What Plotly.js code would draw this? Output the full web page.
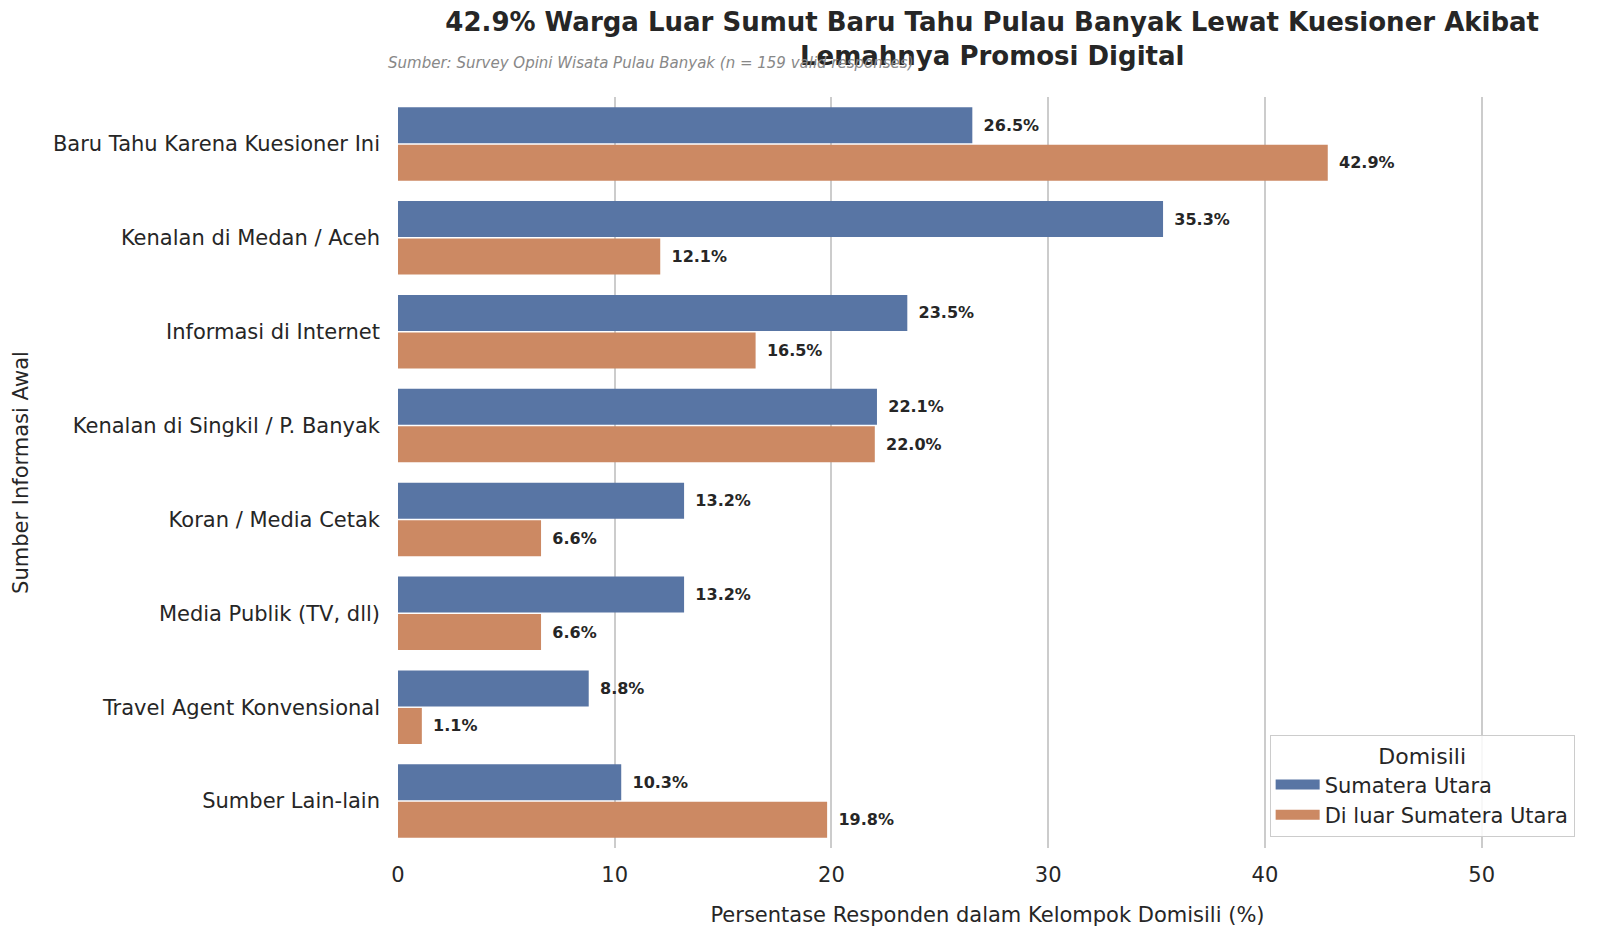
<!DOCTYPE html>
<html>
<head>
<meta charset="utf-8">
<script src="https://cdn.plot.ly/plotly-3.0.1.min.js"></script>
<style>
  html, body { margin: 0; padding: 0; background: #fff; }
  #grafik { width: 1600px; height: 941px; }
</style>
</head>
<body>
<div id="grafik"></div>
<script>
// kategori sumber informasi (urut dari atas)
const kategori = [
  'Baru Tahu Karena Kuesioner Ini',
  'Kenalan di Medan / Aceh',
  'Informasi di Internet',
  'Kenalan di Singkil / P. Banyak',
  'Koran / Media Cetak',
  'Media Publik (TV, dll)',
  'Travel Agent Konvensional',
  'Sumber Lain-lain'
];
const sumut = [26.5, 35.3, 23.5, 22.1, 13.2, 13.2, 8.8, 10.3];
const luarSumut = [42.9, 12.1, 16.5, 22.0, 6.6, 6.6, 1.1, 19.8];
const namaSeri = ['Sumatera Utara', 'Di luar Sumatera Utara'];
const warna = ['#5875a4', '#cc8963'];
const xTicks = [0, 10, 20, 30, 40, 50];

const fontDasar = 'DejaVu Sans, sans-serif';
const labelFont = { family: fontDasar, size: 16, color: '#262626' };
const jarak = '\u00A0\u2009';  // sedikit jarak antara ujung bar dan label

function barTrace(nama, nilai, col) {
  return {
    type: 'bar', orientation: 'h', name: nama,
    y: kategori, x: nilai,
    text: nilai.map(v => jarak + '<b>' + v.toFixed(1) + '%</b>'),
    textposition: 'outside', cliponaxis: false,
    textfont: labelFont,
    marker: { color: col, line: { width: 0 } },
    showlegend: false
  };
}

// legenda pakai garis tebal supaya swatch-nya persegi panjang
function legendTrace(nama, col) {
  return {
    type: 'scatter', mode: 'lines', name: nama,
    x: [null], y: [null],
    line: { color: col, width: 14 },
    hoverinfo: 'skip'
  };
}

const traces = [
  barTrace(namaSeri[0], sumut, warna[0]),
  barTrace(namaSeri[1], luarSumut, warna[1]),
  legendTrace(namaSeri[0], warna[0]),
  legendTrace(namaSeri[1], warna[1])
];

const layout = {
  width: 1600, height: 941,
  paper_bgcolor: '#fff', plot_bgcolor: '#fff',
  font: { family: fontDasar, color: '#262626', size: 21 },
  margin: { t: 97, b: 93, l: 398, r: 23 },
  barmode: 'group', bargap: 0.2, bargroupgap: 0.04,
  title: {
    text: '<b>42.9% Warga Luar Sumut Baru Tahu Pulau Banyak Lewat Kuesioner Akibat<br>Lemahnya Promosi Digital</b>',
    font: { family: fontDasar, size: 26, color: '#262626' },
    x: 0.504, xref: 'paper', xanchor: 'center',
    y: 0.967, yref: 'container', yanchor: 'middle'
  },
  xaxis: {
    range: [0, 54.4],
    tickvals: xTicks,
    showgrid: true, gridcolor: '#cccccc', gridwidth: 1.5,
    zeroline: false, showline: false, ticks: '',
    tickfont: { size: 21 },
    ticklabelstandoff: 12,
    title: { text: 'Persentase Responden dalam Kelompok Domisili (%)', font: { size: 21 }, standoff: 21 }
  },
  yaxis: {
    autorange: 'reversed',
    showgrid: false, zeroline: false, showline: false, ticks: '',
    tickfont: { size: 21 },
    ticklabelstandoff: 17,
    title: { text: 'Sumber Informasi Awal', font: { size: 21 }, standoff: 18 }
  },
  legend: {
    title: { text: 'Domisili', side: 'top center', font: { size: 22 } },
    x: 0.998, xanchor: 'right', y: 0.015, yanchor: 'bottom',
    bgcolor: 'rgba(255,255,255,0.85)', bordercolor: '#cccccc', borderwidth: 1,
    font: { size: 21 }, traceorder: 'normal', itemwidth: 44
  },
  annotations: [{
    text: '<i>Sumber: Survey Opini Wisata Pulau Banyak (n = 159 valid responses)</i>',
    xref: 'paper', yref: 'paper', x: -0.01, y: 1.0, yshift: 34,
    xanchor: 'left', yanchor: 'middle', showarrow: false,
    font: { size: 15, color: '#888888' }
  }]
};

Plotly.newPlot('grafik', traces, layout, { displayModeBar: false });
</script>
</body>
</html>
